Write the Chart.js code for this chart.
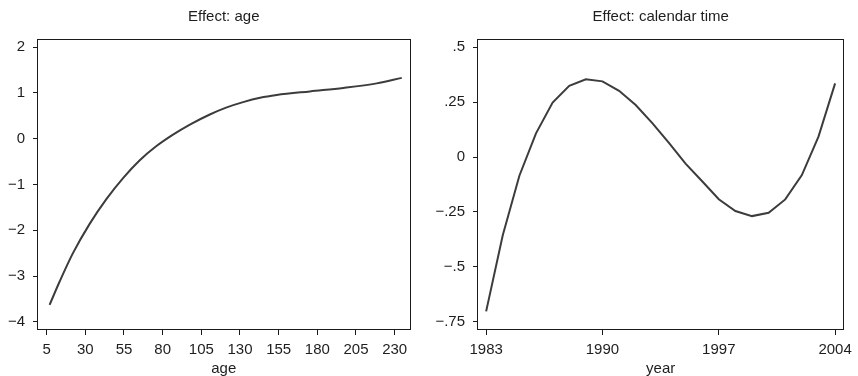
<!DOCTYPE html>
<html>
<head>
<meta charset="utf-8">
<script src="https://cdn.jsdelivr.net/npm/chart.js@4"></script>
<style>
  html, body { margin: 0; padding: 0; background: #fff; }
  #wrap { position: relative; width: 858px; height: 376px; overflow: hidden; }
  canvas { position: absolute; top: 0; }
  #c1 { left: 0; }
  #c2 { left: 429px; }
</style>
</head>
<body>
<div id="wrap">
  <canvas id="c1" width="429" height="376"></canvas>
  <canvas id="c2" width="429" height="376"></canvas>
</div>
<script>
// ---- Data ----
const ageX = [6.9, 13.4, 22, 32.8, 43.6, 54.4, 65.2, 76, 86.7, 97.6, 110.5, 121, 132, 143, 153.7, 175.2, 196.8, 218.4, 234.6];
const ageEffect = [-3.63, -3.12, -2.50, -1.86, -1.32, -0.86, -0.47, -0.16, 0.09, 0.31, 0.53, 0.68, 0.80, 0.895, 0.955, 1.035, 1.11, 1.21, 1.33];

const years = [1983, 1984, 1985, 1986, 1987, 1988, 1989, 1990, 1991, 1992, 1993, 1994, 1995, 1996, 1997, 1998, 1999, 2000, 2001, 2002, 2003, 2004];
const calEffect = [-0.703, -0.356, -0.085, 0.108, 0.248, 0.325, 0.354, 0.345, 0.302, 0.237, 0.155, 0.065, -0.03, -0.11, -0.192, -0.246, -0.269, -0.254, -0.193, -0.082, 0.093, 0.336];

const ageTicks = [5, 30, 55, 80, 105, 130, 155, 180, 205, 230];
const ageTickLabels = ['5', '30', '55', '80', '105', '130', '155', '180', '205', '230'];
const ageYTicks = [-4, -3, -2, -1, 0, 1, 2];
const ageYTickLabels = ['\u22124', '\u22123', '\u22122', '\u22121', '0', '1', '2'];

const yearTicks = [1983, 1990, 1997, 2004];
const yearTickLabels = ['1983', '1990', '1997', '2004'];
const calYTicks = [-0.75, -0.5, -0.25, 0, 0.25, 0.5];
const calYTickLabels = ['\u2212.75', '\u2212.5', '\u2212.25', '0', '.25', '.5'];

const titles = ['Effect: age', 'Effect: calendar time'];
const xTitles = ['age', 'year'];

// ---- Styling ----
const FONT = '"Liberation Sans", Arial, Helvetica, sans-serif';
const TXT = '#1e1e1e';
const LINE = '#3c3c3c';

const framePlugin = {
  id: 'frame',
  afterDraw(chart, args, opts) {
    const { ctx, chartArea: a } = chart;
    ctx.save();
    ctx.strokeStyle = '#1a1a1a';
    ctx.lineWidth = 1;
    ctx.strokeRect(Math.round(a.left) - 0.5, Math.round(a.top) + 0.5,
                   Math.round(a.right - a.left) + 1, Math.round(a.bottom - a.top) - 1);
    ctx.fillStyle = TXT;
    ctx.font = '15px ' + FONT;
    ctx.textAlign = 'center';
    ctx.textBaseline = 'middle';
    ctx.fillText(opts.text, (a.left + a.right) / 2, 17);
    ctx.restore();
  }
};

function makeTicks(values) {
  return function (scale) {
    scale.ticks = values.map(v => ({ value: v }));
  };
}
function labelFor(values, labels) {
  return function (value) {
    const i = values.findIndex(v => Math.abs(v - value) < 1e-9);
    return i >= 0 ? labels[i] : '';
  };
}

function buildChart(canvasId, xs, ys, cfg) {
  const pts = xs.map((x, i) => ({ x: x, y: ys[i] }));
  return new Chart(document.getElementById(canvasId), {
    type: 'line',
    data: {
      datasets: [{
        data: pts,
        borderColor: LINE,
        borderWidth: 2,
        pointRadius: 0,
        fill: false,
        tension: 0,
        cubicInterpolationMode: cfg.smooth ? 'monotone' : 'default'
      }]
    },
    plugins: [framePlugin],
    options: {
      responsive: false,
      animation: false,
      devicePixelRatio: 1,
      layout: { padding: { top: 39, right: cfg.padRight, left: 0, bottom: 0 } },
      plugins: {
        legend: { display: false },
        tooltip: { enabled: false },
        title: { display: false },
        frame: { text: cfg.title }
      },
      scales: {
        x: {
          type: 'linear',
          min: cfg.xmin, max: cfg.xmax,
          afterBuildTicks: makeTicks(cfg.xTicks),
          afterFit(scale) { scale.height = 46; },
          border: { display: false },
          grid: { display: true, drawOnChartArea: false, drawTicks: true, tickLength: 5, color: '#1a1a1a', lineWidth: 1 },
          ticks: {
            autoSkip: false, maxRotation: 0, padding: 6, color: TXT,
            font: { family: FONT, size: 15 },
            callback: labelFor(cfg.xTicks, cfg.xLabels)
          },
          title: {
            display: true, text: cfg.xTitle, color: TXT,
            font: { family: FONT, size: 15, lineHeight: 1 },
            padding: { top: 0, bottom: 0 }
          }
        },
        y: {
          type: 'linear',
          min: cfg.ymin, max: cfg.ymax,
          afterBuildTicks: makeTicks(cfg.yTicks),
          afterFit(scale) { scale.width = cfg.yWidth; },
          border: { display: false },
          grid: { display: true, drawOnChartArea: false, drawTicks: true, tickLength: 5, color: '#1a1a1a', lineWidth: 1 },
          ticks: {
            autoSkip: false, padding: 8, color: TXT,
            font: { family: FONT, size: 15 },
            callback: labelFor(cfg.yTicks, cfg.yLabels)
          }
        }
      }
    }
  });
}

buildChart('c1', ageX, ageEffect, {
  smooth: true, title: titles[0], xTitle: xTitles[0],
  xmin: -0.6, xmax: 239.6, ymin: -4.18, ymax: 2.18,
  xTicks: ageTicks, xLabels: ageTickLabels,
  yTicks: ageYTicks, yLabels: ageYTickLabels,
  yWidth: 38, padRight: 19.5
});

buildChart('c2', years, calEffect, {
  smooth: false, title: titles[1], xTitle: xTitles[1],
  xmin: 1982.51, xmax: 2004.5, ymin: -0.788, ymax: 0.538,
  xTicks: yearTicks, xLabels: yearTickLabels,
  yTicks: calYTicks, yLabels: calYTickLabels,
  yWidth: 49, padRight: 9.3
});
</script>
</body>
</html>
